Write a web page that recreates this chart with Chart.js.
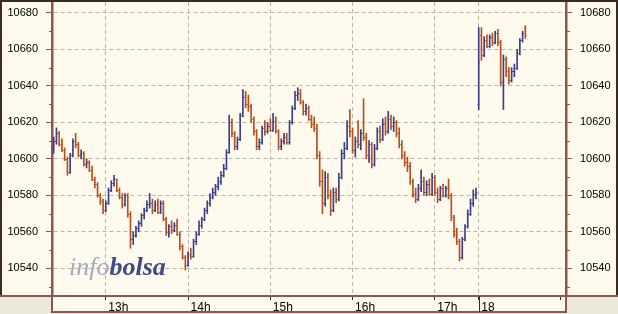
<!DOCTYPE html>
<html><head><meta charset="utf-8">
<script src="https://cdn.jsdelivr.net/npm/chart.js@4/dist/chart.umd.min.js"></script>
<style>html,body{margin:0;padding:0;background:#ece9d8;overflow:hidden}canvas{display:block}</style>
</head><body>
<canvas id="c" width="618" height="314"></canvas>
<script>
// ---- DATA (2-minute OHLC bars; day 17 from 12:22 to 17:30, then day 18 from 09:00) ----
const opens = [
 10606,10610,10614,10608,10605,10600,10593,10602,10610,10608,
 10602,10603,10597,10598,10594,10589,10586,10580,10577,10572,
 10576,10583,10587,10589,10583,10579,10575,10580,10570,10556,
 10558,10562,10565,10569,10572,10575,10576,10572,10575,10571,
 10576,10567,10560,10563,10561,10564,10559,10552,10546,10542,
 10548,10547,10555,10559,10564,10567,10572,10576,10579,10582,
 10585,10588,10591,10595,10604,10620,10614,10607,10611,10624,
 10634,10630,10629,10622,10615,10607,10609,10617,10615,10618,
 10616,10621,10615,10607,10610,10612,10609,10620,10628,10635,
 10636,10631,10626,10628,10622,10619,10617,10602,10588,10576,
 10590,10580,10572,10582,10578,10590,10603,10606,10618,10615,
 10605,10610,10608,10614,10612,10602,10608,10597,10606,10615,
 10611,10619,10615,10622,10618,10620,10614,10608,10602,10598,
 10596,10588,10581,10578,10584,10588,10582,10586,10581,10590,
 10582,10578,10584,10580,10584,10580,10568,10559,10555,10546,
 10556,10563,10570,10576,10581,
 // day 18
 10630,10668,10657,10665,10662,10667,10664,10669,10664,10642,10655,10648,10643,10648,10650,10658,10665,10672
];
const highs = [
 10612,10617,10615,10611,10606,10601,10603,10611,10614,10609,
 10605,10604,10600,10599,10596,10590,10587,10581,10578,10577,
 10584,10588,10591,10589,10584,10581,10581,10581,10571,10560,
 10563,10566,10570,10573,10577,10581,10578,10577,10578,10577,
 10577,10568,10564,10566,10565,10567,10560,10553,10547,10549,
 10551,10556,10560,10566,10568,10573,10577,10581,10584,10586,
 10590,10593,10597,10605,10624,10622,10615,10612,10625,10638,
 10637,10635,10630,10623,10616,10611,10618,10621,10620,10622,
 10625,10623,10616,10611,10614,10614,10621,10629,10637,10639,
 10638,10632,10630,10629,10624,10623,10619,10604,10594,10593,
 10592,10583,10584,10584,10592,10605,10609,10621,10627,10617,
 10612,10621,10616,10633,10614,10610,10609,10608,10617,10618,
 10622,10623,10626,10624,10623,10621,10617,10610,10604,10601,
 10598,10589,10584,10586,10594,10590,10588,10589,10592,10591,
 10584,10585,10586,10585,10589,10581,10569,10562,10556,10557,
 10564,10572,10578,10583,10584,
 10672,10672,10667,10668,10668,10669,10670,10671,10665,10657,10656,10650,10650,10652,10660,10666,10670,10673
];
const lows = [
 10603,10608,10607,10604,10599,10591,10592,10601,10606,10601,
 10600,10596,10595,10593,10588,10584,10579,10575,10570,10571,
 10575,10582,10585,10582,10578,10573,10574,10568,10551,10553,
 10557,10560,10563,10567,10571,10573,10570,10571,10570,10570,
 10566,10558,10557,10559,10560,10558,10550,10545,10539,10541,
 10545,10546,10553,10558,10562,10566,10570,10574,10578,10580,
 10583,10586,10590,10594,10603,10612,10605,10605,10610,10623,
 10628,10626,10620,10613,10605,10605,10608,10613,10614,10615,
 10615,10614,10605,10605,10608,10608,10608,10619,10627,10632,
 10630,10624,10624,10621,10617,10615,10600,10585,10570,10574,
 10578,10569,10571,10576,10577,10589,10600,10605,10612,10603,
 10601,10606,10605,10610,10600,10598,10595,10596,10605,10609,
 10610,10613,10614,10616,10615,10612,10606,10600,10596,10593,
 10586,10579,10576,10577,10582,10580,10580,10580,10580,10580,
 10576,10577,10579,10579,10578,10566,10557,10553,10544,10545,
 10555,10562,10569,10574,10578,
 10627,10654,10656,10661,10661,10662,10663,10662,10640,10627,10645,10641,10642,10645,10649,10657,10664,10666
];
const closes = [
 10610,10614,10608,10605,10600,10593,10602,10610,10608,10602,
 10603,10597,10598,10594,10589,10586,10580,10577,10572,10576,
 10583,10587,10589,10583,10579,10575,10580,10570,10556,10558,
 10562,10565,10569,10572,10575,10576,10572,10575,10571,10576,
 10567,10560,10563,10561,10564,10559,10552,10546,10542,10548,
 10547,10555,10559,10564,10567,10572,10576,10579,10582,10585,
 10588,10591,10595,10604,10620,10614,10607,10611,10624,10634,
 10630,10629,10622,10615,10607,10609,10617,10615,10618,10616,
 10621,10615,10607,10610,10612,10609,10620,10628,10635,10636,
 10631,10626,10628,10622,10619,10617,10602,10588,10576,10590,
 10580,10572,10582,10578,10590,10603,10606,10618,10615,10605,
 10610,10608,10614,10612,10602,10608,10597,10606,10615,10611,
 10619,10615,10622,10618,10620,10614,10608,10602,10598,10596,
 10588,10581,10578,10584,10588,10582,10586,10581,10590,10582,
 10578,10584,10580,10584,10580,10568,10559,10555,10546,10556,
 10563,10570,10576,10581,10582,
 10653,10657,10665,10662,10667,10664,10669,10664,10642,10655,10648,10643,10648,10650,10658,10665,10669,10668
];
const day1Bars = 155;
const yTicks = [10540,10560,10580,10600,10620,10640,10660,10680];
const yMinorTicks = [10530,10550,10570,10590,10610,10630,10650,10670];
const xTickTimes = ['13:00','14:00','15:00','16:00','17:00','18 09:00','18 10:00'];
const xTickLabels = ['13h','14h','15h','16h','17h','18',''];
const watermark = ['info','bolsa'];

// ---- STYLE ----
const BG = '#fffaee', GREY = '#ece9d8', GRID = '#b9b8a6', AXIS = '#8e5650', DARK = '#3e2a22';
const UP = '#3a3f8a', DOWN = '#b5501f';
const FONT = "'Liberation Sans', Arial, sans-serif";

function barIndexOf(t){
  const d2 = t.startsWith('18 ');
  const p = (d2 ? t.slice(3) : t).split(':');
  const m = (+p[0])*60 + (+p[1]);
  return d2 ? day1Bars + (m - 540)/2 : (m - 742)/2;
}
const idx = opens.map((_, i) => i);
const colors = idx.map(i => closes[i] >= opens[i] ? UP : DOWN);

const framePlugin = {
  id: 'frame',
  beforeDraw(chart){
    const {ctx, chartArea: a} = chart;
    ctx.save();
    ctx.fillStyle = GREY; ctx.fillRect(0, 0, chart.width, chart.height);
    ctx.fillStyle = BG; ctx.fillRect(0, 0, chart.width, a.bottom);
    ctx.fillRect(a.left, a.bottom, a.right - a.left, 16);
    ctx.restore();
  },
  afterDraw(chart){
    const {ctx, chartArea: a} = chart;
    const W = chart.width;
    ctx.save();
    ctx.lineWidth = 2; ctx.strokeStyle = DARK;
    ctx.beginPath();
    ctx.moveTo(0, 1); ctx.lineTo(W, 1);
    ctx.moveTo(1, 0); ctx.lineTo(1, a.bottom);
    ctx.moveTo(W - 1, 0); ctx.lineTo(W - 1, a.bottom);
    ctx.stroke();
    ctx.strokeStyle = AXIS; ctx.lineWidth = 2;
    ctx.beginPath();
    ctx.moveTo(0, a.bottom); ctx.lineTo(a.left, a.bottom);
    ctx.moveTo(a.right, a.bottom); ctx.lineTo(W, a.bottom);
    ctx.moveTo(a.left, a.bottom); ctx.lineTo(a.left, a.bottom + 17);
    ctx.moveTo(a.right, a.bottom); ctx.lineTo(a.right, a.bottom + 17);
    ctx.moveTo(a.left, a.bottom + 16); ctx.lineTo(a.right, a.bottom + 16);
    ctx.stroke();
    const xs = chart.scales.x;
    const sx = Math.round(xs.getPixelForValue(barIndexOf('18 09:00'))) + 0.5;
    ctx.lineWidth = 1; ctx.strokeStyle = DARK;
    ctx.beginPath(); ctx.moveTo(sx, a.bottom); ctx.lineTo(sx, a.bottom + 16); ctx.stroke();
    const ys = chart.scales.y;
    ctx.strokeStyle = AXIS;
    ctx.beginPath();
    yMinorTicks.forEach(v => {
      const py = Math.round(ys.getPixelForValue(v)) + 0.5;
      ctx.moveTo(a.left - 3, py); ctx.lineTo(a.left, py);
      ctx.moveTo(a.right, py); ctx.lineTo(a.right + 4, py);
    });
    ctx.stroke();
    ctx.restore();
  }
};

const watermarkPlugin = {
  id: 'watermark',
  beforeDatasetsDraw(chart){
    const {ctx, chartArea: a} = chart;
    ctx.save();
    ctx.textBaseline = 'alphabetic';
    ctx.font = "italic 26px 'Liberation Serif', 'Times New Roman', serif";
    ctx.fillStyle = '#a4a8c4';
    const x0 = a.left + 17, y0 = a.bottom - 21;
    ctx.fillText(watermark[0], x0, y0);
    const w = ctx.measureText(watermark[0]).width;
    ctx.font = "italic bold 26px 'Liberation Serif', 'Times New Roman', serif";
    ctx.fillStyle = '#404a86';
    ctx.fillText(watermark[1], x0 + w, y0);
    ctx.restore();
  }
};

const ohlcPlugin = {
  id: 'ohlcTicks',
  afterDatasetsDraw(chart){
    const {ctx, chartArea: a, scales: {x, y}} = chart;
    ctx.save();
    ctx.beginPath(); ctx.rect(a.left, a.top, a.right - a.left, a.bottom - a.top); ctx.clip();
    ctx.lineWidth = 1;
    idx.forEach(i => {
      const px = x.getPixelForValue(i);
      const po = Math.round(y.getPixelForValue(opens[i])) + 0.5;
      const pc = Math.round(y.getPixelForValue(closes[i])) + 0.5;
      ctx.strokeStyle = colors[i];
      ctx.beginPath();
      ctx.moveTo(px - 1.3, po); ctx.lineTo(px, po);
      ctx.moveTo(px, pc); ctx.lineTo(px + 1.3, pc);
      ctx.stroke();
    });
    ctx.restore();
  }
};

const yCommon = {
  min: 10524.8, max: 10686,
  afterBuildTicks(s){ s.ticks = yTicks.map(v => ({value: v})); },
  ticks: {padding: 8, color: '#000', font: {family: FONT, size: 11}, callback: v => String(v)},
  afterFit(s){ s.width = 52; s.paddingTop = 0; s.paddingBottom = 0; }
};

new Chart(document.getElementById('c'), {
  type: 'bar',
  data: {
    datasets: [{
      data: idx.map(i => ({x: i, y: [lows[i], highs[i]]})),
      backgroundColor: colors,
      borderWidth: 0,
      barThickness: 1
    }]
  },
  options: {
    responsive: false, animation: false, events: [],
    layout: {padding: {top: 2, left: 0, right: 0, bottom: 0}},
    plugins: {legend: {display: false}, tooltip: {enabled: false}},
    scales: {
      x: {
        type: 'linear', min: -0.62, max: 186.83, offset: false,
        afterBuildTicks(s){ s.ticks = xTickTimes.map(t => ({value: barIndexOf(t)})); },
        ticks: {autoSkip: false, maxRotation: 0, align: 'start', labelOffset: 2.5, padding: 0,
                color: '#000', font: {family: FONT, size: 12},
                callback: (v, i) => xTickLabels[i]},
        grid: {offset: false, color: c => (xTickLabels[c.index] === '' ? 'rgba(0,0,0,0)' : GRID),
               lineWidth: 1, tickLength: 4, tickColor: DARK, tickWidth: 1},
        border: {color: AXIS, width: 2, dash: [4, 3]},
        afterFit(s){ s.height = 18; s.paddingLeft = 0; s.paddingRight = 0; }
      },
      y: Object.assign({position: 'left',
        grid: {color: GRID, lineWidth: 1, tickLength: 6, tickColor: AXIS, tickWidth: 1},
        border: {color: AXIS, width: 2.5, dash: [4, 3]}}, yCommon),
      y2: Object.assign({position: 'right',
        grid: {drawOnChartArea: false, tickLength: 6, tickColor: AXIS, tickWidth: 1},
        border: {color: AXIS, width: 2.5}}, yCommon)
    }
  },
  plugins: [framePlugin, watermarkPlugin, ohlcPlugin]
});
</script>
</body></html>
